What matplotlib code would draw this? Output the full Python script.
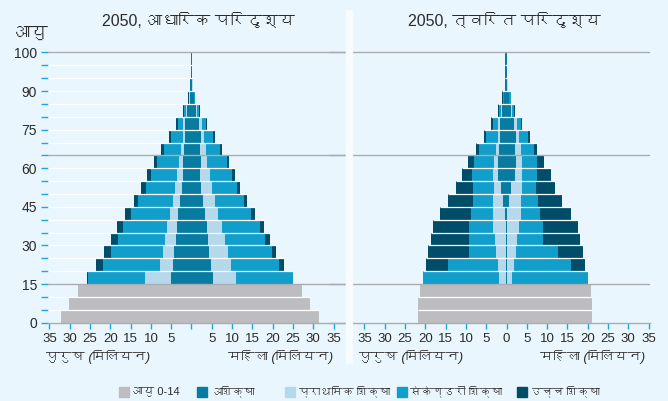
import matplotlib
matplotlib.use("Agg")
import matplotlib.pyplot as plt
from matplotlib import font_manager as fm
from matplotlib.ft2font import FT2Font
from matplotlib.patches import Rectangle

# age groups: 0-4, 5-9, ..., 95-99, 100+
age_starts = list(range(0, 105, 5))
child_starts = age_starts[:3]      # 0-14 shown as one grey band
adult_starts = age_starts[3:]      # 15+ split by education

# 2050 baseline scenario (millions)
base_child_m = [32.1, 30.2, 28.0]
base_child_f = [31.4, 29.2, 27.1]
# columns: no education, primary, secondary, higher
base_male = [
    [5.05, 6.40, 14.10, 0.10],
    [4.56, 3.20, 14.04, 1.70],
    [4.31, 2.71, 12.81, 1.72],
    [3.82, 2.71, 11.57, 1.73],
    [3.57, 2.46, 10.84, 1.48],
    [3.33, 1.97, 9.60, 1.48],
    [2.83, 1.73, 8.62, 0.98],
    [2.34, 1.72, 7.15, 1.23],
    [2.09, 1.48, 6.41, 0.98],
    [2.09, 0.99, 5.50, 0.66],
    [1.85, 0.74, 4.27, 0.65],
    [1.60, 0.49, 3.04, 0.41],
    [1.68, 0.41, 1.24, 0.49],
    [1.11, 0.24, 0.50, 0.24],
    [0.45, 0.05, 0.20, 0.15],
    [0.37, 0.00, 0.00, 0.00],
    [0.20, 0.00, 0.00, 0.00],
    [0.12, 0.00, 0.00, 0.00],
]
base_female = [
    [5.30, 5.66, 14.00, 0.00],
    [4.80, 4.93, 11.82, 1.25],
    [4.31, 4.68, 10.84, 0.98],
    [4.06, 4.19, 9.85, 1.23],
    [3.82, 3.69, 9.36, 0.99],
    [3.33, 3.20, 8.13, 0.98],
    [2.83, 2.96, 7.14, 0.74],
    [2.34, 2.71, 6.16, 0.74],
    [2.09, 2.47, 5.42, 0.73],
    [2.34, 1.40, 5.00, 0.50],
    [2.09, 1.48, 3.45, 0.49],
    [2.34, 0.66, 2.30, 0.49],
    [1.85, 0.74, 0.98, 0.25],
    [1.11, 0.24, 0.50, 0.24],
    [0.53, 0.10, 0.30, 0.00],
    [0.20, 0.17, 0.00, 0.00],
    [0.20, 0.00, 0.00, 0.00],
    [0.12, 0.00, 0.00, 0.00],
]

# 2050 fast-track scenario (millions)
fast_child_m = [21.8, 21.8, 21.3]
fast_child_f = [21.06, 21.06, 20.73]
fast_male = [
    [0.10, 1.75, 18.80, 0.00],
    [0.10, 2.00, 12.32, 5.42],
    [0.10, 2.49, 6.65, 10.09],
    [0.10, 2.73, 6.41, 9.36],
    [0.15, 3.18, 5.91, 8.86],
    [0.37, 2.96, 5.41, 7.64],
    [0.86, 2.47, 4.92, 6.16],
    [1.35, 1.73, 5.17, 4.19],
    [2.09, 1.24, 5.17, 2.46],
    [2.09, 0.99, 4.92, 1.48],
    [1.85, 0.74, 4.18, 0.74],
    [1.60, 0.49, 2.96, 0.49],
    [1.68, 0.41, 1.24, 0.49],
    [1.11, 0.24, 0.50, 0.24],
    [0.53, 0.00, 0.33, 0.25],
    [0.37, 0.00, 0.00, 0.00],
    [0.37, 0.00, 0.00, 0.00],
    [0.30, 0.00, 0.00, 0.00],
]
fast_female = [
    [0.10, 1.25, 18.70, 0.00],
    [0.10, 1.75, 14.04, 3.44],
    [0.10, 2.24, 10.34, 6.16],
    [0.10, 2.49, 6.40, 9.11],
    [0.10, 2.98, 5.91, 8.62],
    [0.12, 3.45, 4.68, 7.64],
    [0.62, 2.95, 4.19, 5.91],
    [1.11, 2.71, 3.45, 4.68],
    [2.09, 1.73, 3.69, 3.45],
    [2.34, 1.48, 3.69, 1.73],
    [2.09, 1.48, 3.20, 0.74],
    [2.34, 0.74, 2.22, 0.49],
    [1.85, 0.74, 0.98, 0.25],
    [1.11, 0.35, 0.50, 0.24],
    [0.53, 0.17, 0.41, 0.00],
    [0.12, 0.25, 0.00, 0.00],
    [0.20, 0.00, 0.00, 0.00],
    [0.12, 0.00, 0.00, 0.00],
]

titles = ["2050, आधारिक परिदृश्य", "2050, त्वरित परिदृश्य"]
legend_labels = ["आयु 0-14", "अशिक्षा", "प्राथमिक शिक्षा", "सेकेण्डरी शिक्षा", "उच्च शिक्षा"]
xtick_vals = list(range(-35, 40, 5))
ytick_vals = list(range(0, 110, 5))
ytick_text = {0: "0", 15: "15", 30: "30", 45: "45", 60: "60", 75: "75", 90: "90", 105: "100"}

BG = "#E9F6FD"
GREY = "#BDBDC1"
EDU_COLORS = ["#087BA0", "#B5D9EA", "#129ECB", "#004D69"]
LINE_GREY = "#A9ADB2"
TICK = "#1AA7DF"
TEXT = "#2B2B2B"


def find_devanagari():
    for f in fm.fontManager.ttflist:
        try:
            if 0x0906 in FT2Font(f.fname).get_charmap():
                return f.name
        except Exception:
            pass
    return None


deva = find_devanagari()
families = ["Liberation Sans"] + ([deva] if deva else []) + ["DejaVu Sans"]
plt.rcParams["font.family"] = families

W, H = 668, 401
PX_PER_M = 4.06
PX_PER_YR = 12.87 / 5
Y0 = 322.7

fig = plt.figure(figsize=(W / 100, H / 100), dpi=100, facecolor=BG)


def make_axes(left_px, right_px, center_px):
    ax = fig.add_axes([left_px / W, 1 - Y0 / H, (right_px - left_px) / W, 106 * PX_PER_YR / H])
    ax.set_xlim((left_px - center_px) / PX_PER_M, (right_px - center_px) / PX_PER_M)
    ax.set_ylim(0, 106)
    ax.patch.set_visible(False)
    for s in ("left", "right", "top"):
        ax.spines[s].set_visible(False)
    ax.spines["bottom"].set_color(LINE_GREY)
    ax.spines["bottom"].set_linewidth(1.0)
    ax.tick_params(axis="x", direction="out", length=4.5, width=1, color=TICK,
                   labelsize=9.5, labelcolor=TEXT, pad=3)
    return ax


def draw_pyramid(ax, child_m, child_f, male, female, grid_left):
    ax.barh(child_starts, [m + f for m, f in zip(child_m, child_f)],
            left=[-m for m in child_m], height=5, align="edge", color=GREY, zorder=2)
    for k, col in enumerate(EDU_COLORS):
        cum_m = [sum(r[:k]) for r in male]
        cum_f = [sum(r[:k]) for r in female]
        ax.barh(adult_starts, [r[k] for r in male], left=[-c - r[k] for c, r in zip(cum_m, male)],
                height=5, align="edge", color=col, zorder=2)
        ax.barh(adult_starts, [r[k] for r in female], left=cum_f,
                height=5, align="edge", color=col, zorder=2)

    tot_m = list(child_m) + [sum(r) for r in male]
    tot_f = list(child_f) + [sum(r) for r in female]
    # thin white separators between age rows
    for i in range(1, len(age_starts)):
        b = age_starts[i]
        if b in (15, 65):
            continue
        lo = grid_left if grid_left is not None else -max(tot_m[i - 1], tot_m[i])
        hi = max(tot_f[i - 1], tot_f[i])
        ax.hlines(b, lo, hi, color="white", lw=0.9, zorder=3)
    if grid_left is not None:
        ax.hlines(100, grid_left, 0, color="white", lw=0.9, zorder=1)
    for b in (15, 65, 105):
        ax.axhline(b, color=LINE_GREY, lw=1.0, zorder=4)


# left panel: baseline
axL = make_axes(48, 345, 191.5)
draw_pyramid(axL, base_child_m, base_child_f, base_male, base_female, axL.get_xlim()[0])
axL.set_xticks(xtick_vals)
axL.set_xticklabels([str(abs(v)) if v != 0 else "" for v in xtick_vals])
axL.set_yticks(ytick_vals)
axL.set_yticklabels([ytick_text.get(v, "") for v in ytick_vals])
axL.tick_params(axis="y", direction="out", length=5, width=1, color=TICK,
                labelsize=10, labelcolor=TEXT, pad=3)

# right panel: fast track
axR = make_axes(330, 650, 506.5)
draw_pyramid(axR, fast_child_m, fast_child_f, fast_male, fast_female, None)
axR.set_xticks(xtick_vals)
axR.set_xticklabels([str(abs(v)) for v in xtick_vals])
axR.set_yticks([])

# white divider between the two panels
fig.patches.append(Rectangle((346 / W, 1 - 363 / H), 6 / W, 353 / H,
                             transform=fig.transFigure, color="#F7FBFE", zorder=5))

fig.text(198 / W, 1 - 21 / H, titles[0], ha="center", va="center", fontsize=11.5, color=TEXT)
fig.text(504 / W, 1 - 21 / H, titles[1], ha="center", va="center", fontsize=11.5, color=TEXT)
fig.text(14 / W, 1 - 33 / H, "आयु", ha="left", va="center", fontsize=12.5, color=TEXT)

for x0, x1 in ((45, 333), (358, 645)):
    fig.text(x0 / W, 1 - 357 / H, "पुरुष (मिलियन)", ha="left", va="center",
             fontsize=9.5, style="italic", color=TEXT)
    fig.text(x1 / W, 1 - 357 / H, "महिला (मिलियन)", ha="right", va="center",
             fontsize=9.5, style="italic", color=TEXT)

# legend
leg_x = [119, 197, 285, 397, 517]
for x, col, lab in zip(leg_x, [GREY] + EDU_COLORS, legend_labels):
    fig.patches.append(Rectangle((x / W, 1 - 397 / H), 10 / W, 10 / H,
                                 transform=fig.transFigure, color=col))
    fig.text((x + 13) / W, 1 - 391 / H, lab, ha="left", va="center", fontsize=8, color=TEXT)

fig.savefig("out.png", dpi=100, facecolor=BG)
